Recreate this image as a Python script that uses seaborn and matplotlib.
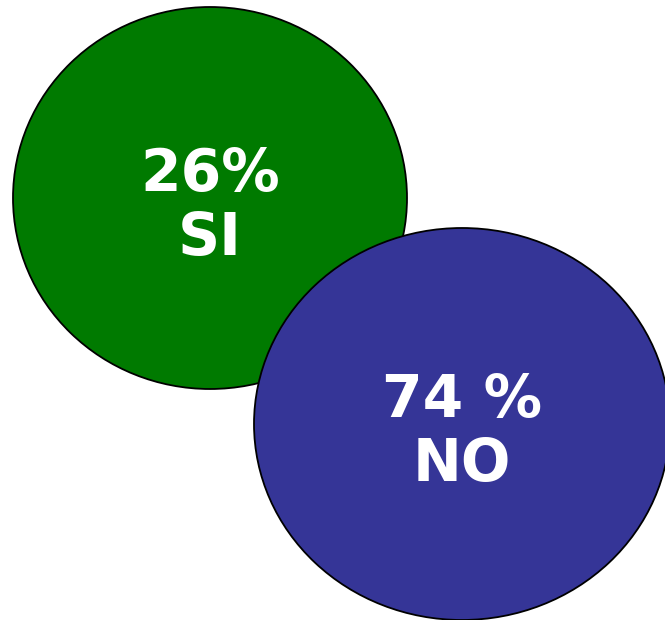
import matplotlib
matplotlib.use('Agg')
import matplotlib.pyplot as plt
import seaborn as sns
from matplotlib.patches import Ellipse

# Data
respuestas = ['SI', 'NO']
porcentajes = ['26%', '74 %']
colores = ['#007a00', '#353597']

# circle layout (pixel coordinates of the 665x620 frame)
centros = [(210, 198), (462, 424)]
radios = [(197, 191), (208, 196)]

sns.set_theme(style='white')
plt.rcParams['font.family'] = ['DejaVu Sans']

fig = plt.figure(figsize=(6.65, 6.2), dpi=100)
ax = fig.add_axes([0, 0, 1, 1])
ax.set_xlim(0, 665)
ax.set_ylim(620, 0)
ax.axis('off')

for resp, pct, col, (cx, cy), (rx, ry) in zip(respuestas, porcentajes, colores, centros, radios):
    ax.add_patch(Ellipse((cx, cy), 2 * rx, 2 * ry, facecolor=col,
                         edgecolor='black', linewidth=1.3))
    ax.text(cx, cy - 24, pct, color='white', fontsize=42, fontweight='bold',
            ha='center', va='center')
    ax.text(cx, cy + 40, resp, color='white', fontsize=42, fontweight='bold',
            ha='center', va='center')

fig.savefig('out.png', dpi=100)
